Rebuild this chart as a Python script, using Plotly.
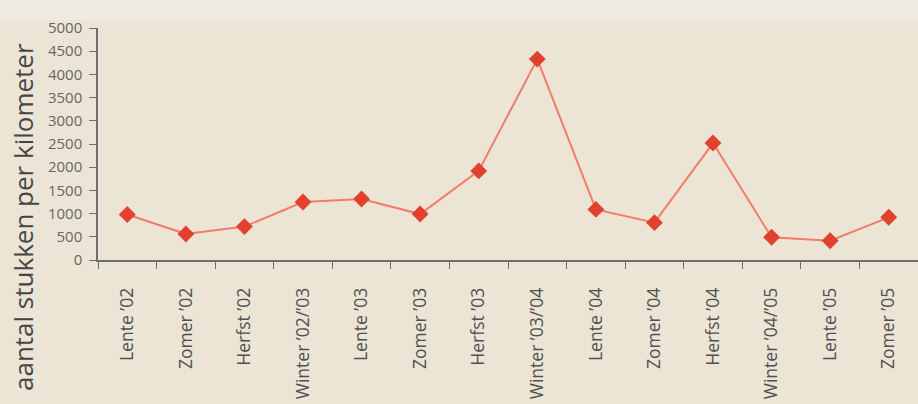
import plotly.graph_objects as go

categories = ["Lente ’02", "Zomer ’02", "Herfst ’02", "Winter ’02/’03", "Lente ’03", "Zomer ’03",
              "Herfst ’03", "Winter ’03/’04", "Lente ’04", "Zomer ’04", "Herfst ’04",
              "Winter ’04/’05", "Lente ’05", "Zomer ’05"]
values = [980, 560, 720, 1250, 1315, 990, 1920, 4330, 1090, 805, 2520, 490, 416, 920]
y_ticks = [0, 500, 1000, 1500, 2000, 2500, 3000, 3500, 4000, 4500, 5000]

W, H = 918, 404
L, R, T, B = 98, 0, 28, 144
ph = H - T - B
pw = W - L - R

fig = go.Figure()
fig.add_trace(go.Scatter(
    x=categories, y=values, mode="lines+markers",
    line=dict(color="#F27C6C", width=2),
    marker=dict(symbol="diamond", size=13, color="#E2412F"),
    cliponaxis=False, showlegend=False,
))

fig.update_layout(
    width=W, height=H,
    margin=dict(l=L, r=R, t=T, b=B, pad=0),
    paper_bgcolor="#ECE5D5", plot_bgcolor="#ECE5D5",
    font=dict(family="Open Sans, Noto Sans, sans-serif", color="#5a5a5a"),
    xaxis=dict(
        type="category", range=[-0.5, len(categories) - 0.5],
        tickangle=-90, tickson="boundaries", ticks="outside", ticklen=7,
        tickcolor="#6e6e6e", showline=True, linecolor="#6e6e6e", linewidth=1.5,
        showgrid=False, tickfont=dict(size=17.5, color="#505050"), zeroline=False,
        ticklabelstandoff=19, automargin=False,
    ),
    yaxis=dict(
        range=[0, 5000], tickvals=y_ticks, ticks="outside", ticklen=7,
        tickcolor="#6e6e6e", showline=True, linecolor="#6e6e6e", linewidth=1.5,
        showgrid=False, zeroline=False, tickfont=dict(size=15, color="#666666"),
        ticklabelstandoff=4, automargin=False,
    ),
    shapes=[dict(type="rect", xref="paper", yref="paper", x0=-L / pw, x1=1,
                 y0=(H - B - 20) / ph, y1=(H - B) / ph, fillcolor="#EFEADF",
                 line=dict(width=0), layer="below")],
    annotations=[dict(
        text="aantal stukken per kilometer", textangle=-90,
        xref="paper", yref="paper", x=(23 - L) / pw, y=(260 - 217) / ph,
        xanchor="center", yanchor="middle", showarrow=False,
        font=dict(size=26, color="#454545"),
    )],
)

fig.write_html("out.html", config={"displayModeBar": False},
               post_script="document.body.style.margin='0';document.body.style.background='#ECE5D5';")
